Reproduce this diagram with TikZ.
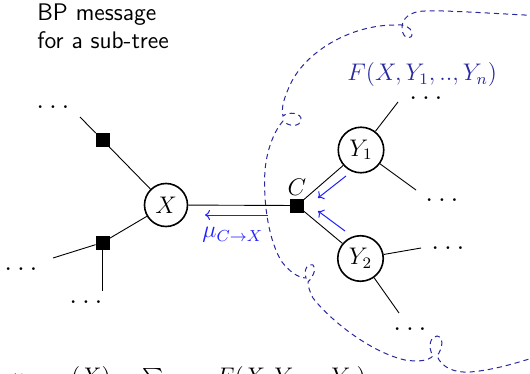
\documentclass[tikz,border=0pt]{standalone}
\usetikzlibrary{arrows.meta}
\definecolor{msgblue}{RGB}{30,30,255}
\definecolor{regblue}{RGB}{40,40,160}
\begin{document}
\begin{tikzpicture}[x=0.5pt,y=-0.5pt,
  every node/.style={font=\fontsize{12}{14.5}\selectfont},
  var/.style={circle,draw,line width=0.8pt,inner sep=0pt},
  fac/.style={rectangle,fill=black,draw=black,minimum size=6.5pt,inner sep=0pt},
  edge/.style={line width=0.45pt},
  msg/.style={msgblue,line width=0.5pt,-{To[length=2.5pt,width=5pt]}},
  dotsn/.style={inner sep=0pt,font=\fontsize{14}{16}\selectfont},
  lbl/.style={inner sep=0pt},
  region/.style={regblue,dash pattern=on 2.6pt off 2pt,line width=0.5pt}]
\useasboundingbox (0,0) rectangle (530,374);
\clip (0,0) rectangle (530,374);

% text
\node[lbl,anchor=base west,font=\sffamily\fontsize{12}{14.5}\selectfont] (bp1) at (37,21) {BP message};
\node[lbl,anchor=base west,font=\sffamily\fontsize{12}{14.5}\selectfont] (bp2) at (37,49) {for a sub-tree};

% variable and factor nodes
\node[var,minimum size=21.5pt] (X) at (166,205) {$X$};
\node[var,minimum size=22.75pt] (Y1) at (361,150) {$Y_1$};
\node[var,minimum size=22.75pt] (Y2) at (360.5,258.5) {$Y_2$};
\node[fac] (C) at (297,205.5) {};
\node[fac] (f1) at (102.5,140) {};
\node[fac] (f2) at (102.5,242.5) {};
\node[lbl,anchor=base] (Clab) at (297,195.5) {$C$};

% dots
\node[dotsn] (d1) at (53,107) {$\dots$};
\node[dotsn] (d2) at (21,269) {$\dots$};
\node[dotsn] (d3) at (86,302) {$\dots$};
\node[dotsn] (d4) at (426,98) {$\dots$};
\node[dotsn] (d5) at (442,200) {$\dots$};
\node[dotsn] (d6) at (448,248) {$\dots$};
\node[dotsn] (d7) at (410,329) {$\dots$};

% free ends
\coordinate (e1) at (80,117);
\coordinate (e2) at (53,258);
\coordinate (e3) at (102.5,291);
\coordinate (e4) at (398,102);
\coordinate (e5) at (416,190);
\coordinate (e6) at (421,248);
\coordinate (e7) at (399,313);

\draw[edge] (e1) -- (f1) -- (X);
\draw[edge] (X) -- (f2) -- (e2);
\draw[edge] (f2) -- (e3);
\draw[edge] (X) -- (C);
\draw[edge] (C) -- (Y1);
\draw[edge] (C) -- (Y2);
\draw[edge] (Y1) -- (e4);
\draw[edge] (Y1) -- (e5);
\draw[edge] (Y2) -- (e6);
\draw[edge] (Y2) -- (e7);

% messages
\coordinate (m1a) at (268,215);
\coordinate (m1b) at (205,215);
\coordinate (m2a) at (346,176);
\coordinate (m2b) at (318,198);
\coordinate (m3a) at (345,231);
\coordinate (m3b) at (318,211);
\draw[msg] (m1a) -- (m1b);
\draw[msg] (m2a) -- (m2b);
\draw[msg] (m3a) -- (m3b);
\node[lbl,anchor=base west,text=msgblue] (mu) at (202,237.5) {$\mu_{C\to X}$};

% region
\node[lbl,anchor=base west,text=regblue] (F) at (347,81) {$F(X,Y_1,..,Y_n)$};
\draw[region] (545,16) .. controls (500,14) and (445,10) .. (425,11)
 .. controls (410,11) and (401,19) .. (402,29)
 .. controls (403,40) and (413,40) .. (412,33)
 .. controls (411,27) and (404,24) .. (395,25)
 .. controls (350,25) and (305,52) .. (290,85)
 .. controls (284,98) and (281,108) .. (283,116)
 .. controls (289,111) and (302,113) .. (301,120)
 .. controls (300,127) and (289,127) .. (283,121)
 .. controls (275,130) and (267,148) .. (265,170)
 .. controls (263,200) and (268,240) .. (282,262)
 .. controls (289,271) and (298,278) .. (306,278)
 .. controls (303,268) and (309,263) .. (313,265)
 .. controls (317,268) and (313,277) .. (308,282)
 .. controls (308,287) and (310,292) .. (313,298)
 .. controls (330,320) and (370,352) .. (405,360)
 .. controls (418,362) and (428,361) .. (433,356)
 .. controls (427,346) and (431,336) .. (437,336)
 .. controls (444,337) and (443,348) .. (437,356)
 .. controls (442,368) and (455,373) .. (470,372)
 .. controls (495,370) and (520,362) .. (545,354);

% formula (cut by the lower edge)
\node[lbl,anchor=base west] (eq) at (10,384) {$\mu_{C\to X}(X) = \sum_{Y_1..Y_n} F(X,Y_1,..,Y_n)$};
\end{tikzpicture}
\end{document}
